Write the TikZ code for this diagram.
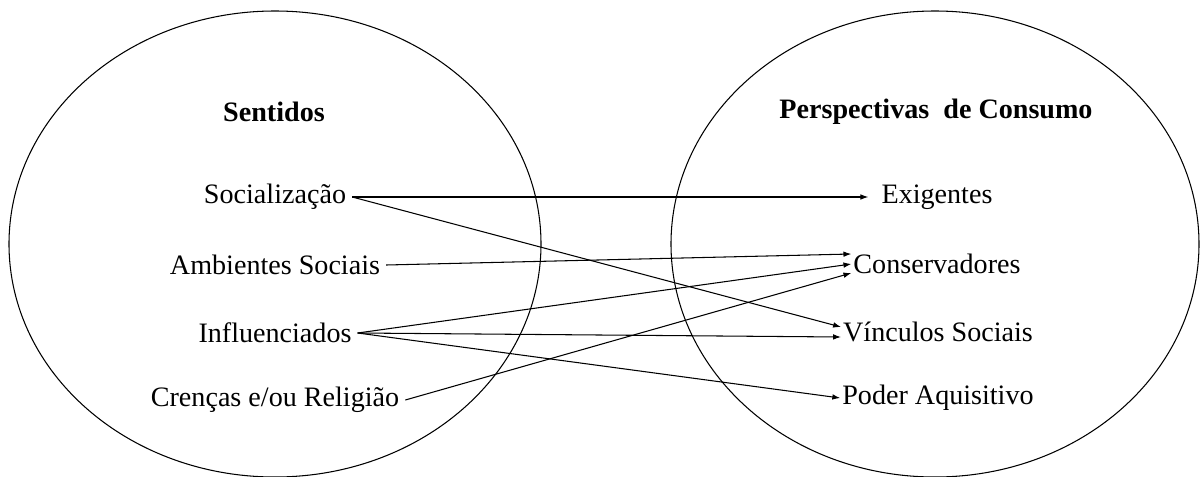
\documentclass[tikz,border=0pt]{standalone}
\usepackage{fontspec}
\setmainfont{Liberation Serif}
\usepackage{tikz}
\usetikzlibrary{arrows.meta}
\tikzset{set/.style={line width=0.6pt},link/.style={-{Latex[length=4.5pt,width=3.2pt]},line width=0.6pt},
 every node/.style={font=\fontsize{16}{19}\selectfont},title/.style={font=\fontsize{16}{19}\selectfont\bfseries},
 target/.style={inner xsep=1pt}}

\begin{document}
\begin{tikzpicture}[x=0.02cm,y=-0.02cm]
\useasboundingbox (0,0) rectangle (1201,477);
\draw[set] (275,244) ellipse [x radius=266,y radius=233];
\draw[set] (935,244) ellipse [x radius=264,y radius=233];
\node[title] (sent) at (274,112) {Sentidos};
\node[title] (persp) at (936,112) {Perspectivas\ \ de Consumo};
\node (soc) at (275,197) {Socialização};
\node (amb) at (275,265) {Ambientes Sociais};
\node (inf) at (275,333) {Influenciados};
\node (cren) at (275,400) {Crenças e/ou Religião};
\node (exi) at (937,197) {Exigentes};
\node[target] (cons) at (937,264) {Conservadores};
\node[target] (vinc) at (938,332) {Vínculos Sociais};
\node[target] (pod) at (938,398) {Poder Aquisitivo};
\draw[link,shorten >=4pt] (soc.east) -- (exi.west);
\draw[link] (soc.east) -- ([yshift=0.1cm]vinc.west);
\draw[link] (amb.east) -- ([yshift=0.2cm]cons.west);
\draw[link] (inf.east) -- (cons.west);
\draw[link] (inf.east) -- ([yshift=-0.1cm]vinc.west);
\draw[link] (inf.east) -- (pod.west);
\draw[link] (cren.east) -- ([yshift=-0.18cm]cons.west);
\end{tikzpicture}
\end{document}
